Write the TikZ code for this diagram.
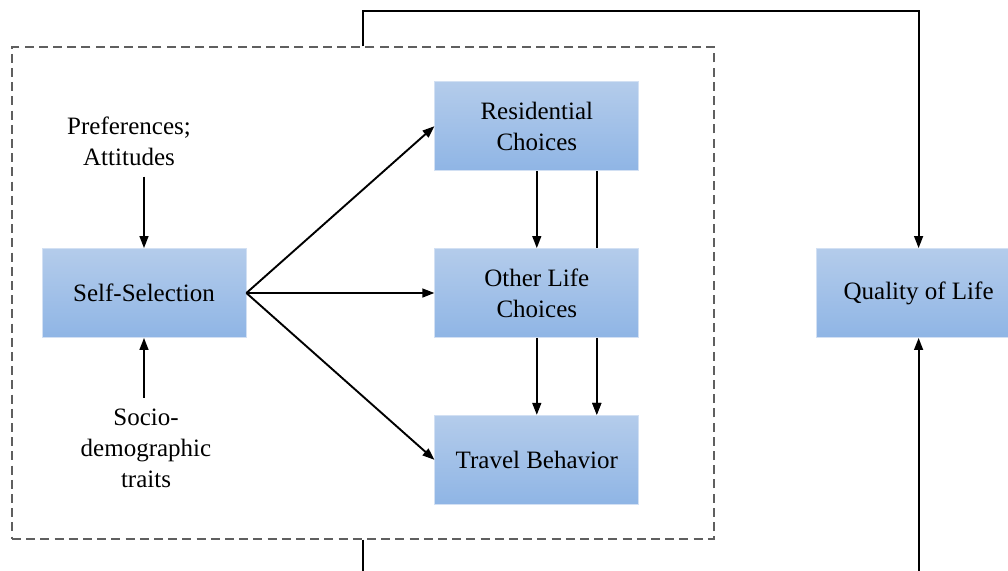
\documentclass[tikz,border=0pt]{standalone}
\usepackage{fontspec}
\setmainfont{Liberation Serif}
\usepackage{tikz}
\usetikzlibrary{
  arrows.meta,
  positioning,
  fit,
  calc,
  backgrounds
}
\definecolor{selftop}{RGB}{180,204,235}
\definecolor{selfbot}{RGB}{143,181,229}
\definecolor{selfgray}{RGB}{95,95,95}
\tikzset{
  block/.style={
    rectangle, top color=selftop, bottom color=selfbot, draw=selftop!60,
    line width=0.4pt, minimum width=102pt, minimum height=44.5pt,
    align=center, font=\fontsize{12.5}{15.5}\selectfont
  },
  label/.style={
    align=center, font=\fontsize{12.5}{15.5}\selectfont
  },
  arrow/.style={-{Triangle[length=6pt,width=4.4pt]}, line width=0.95pt},
  groupbox/.style={
    draw=selfgray, line width=0.7pt, dash pattern=on 4.5pt off 2.6pt
  }
}

\begin{document}
\begin{tikzpicture}[x=0.5pt, y=-0.5pt]
  \path[use as bounding box, clip] (0,0) rectangle (1008,570);

  \node[block] (self) at (144,293) {Self-Selection};
  \node[block, right=94pt of self]    (other)  {Other Life\\Choices};
  \node[block, above=38.5pt of other] (resid)  {Residential\\Choices};
  \node[block, below=38.5pt of other] (travel) {Travel Behavior};
  \node[block, right=88.5pt of other] (qol)    {Quality of Life};

  \node[label] (prefs) at (129,141) {Preferences;\\Attitudes};
  \node[label] (socio) at (146,448) {Socio-\\demographic\\traits};

  \coordinate (boxnw) at (12,47);
  \coordinate (boxse) at (714,539);
  \node[groupbox, fit=(boxnw)(boxse), inner sep=0pt] (model) {};

  \draw[arrow] (self.north |- prefs.south) ++(0,4) -- (self);
  \draw[arrow] (self.south |- socio.north) ++(0,-4) -- (self);
  \draw[arrow] (self.east) -- (resid.west);
  \draw[arrow] (self.east) -- (other.west);
  \draw[arrow] (self.east) -- (travel.west);
  \draw[arrow] (resid) -- (other);
  \draw[arrow] (other) -- (travel);
  \begin{pgfonlayer}{background}
    \draw[arrow] ([xshift=30pt]resid.south) -- ([xshift=30pt]travel.north);
  \end{pgfonlayer}
  \draw[arrow] ([xshift=30pt]other.south) -- ([xshift=30pt]travel.north);

  % feedback to quality of life
  \draw[arrow] (model.north) -- ++(0,-35) -| (qol);
  \draw[arrow] (model.south) -- ++(0,60) -| (qol);
\end{tikzpicture}
\end{document}
